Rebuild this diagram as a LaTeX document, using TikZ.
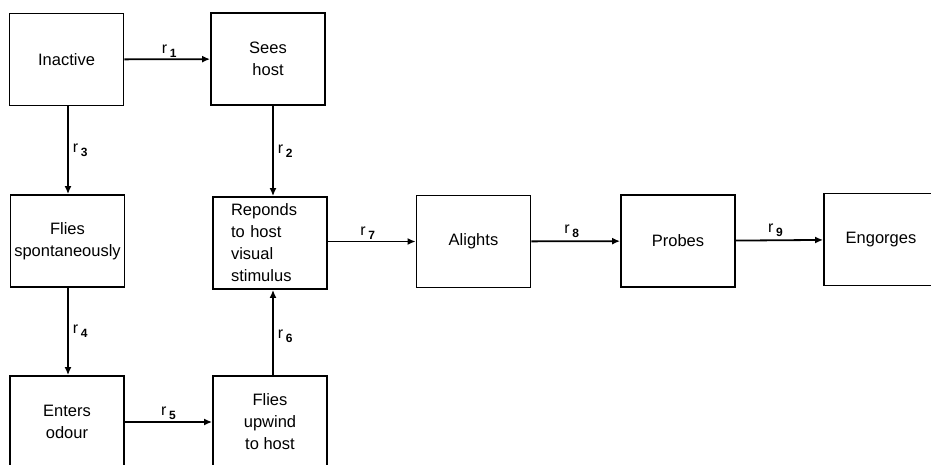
\documentclass[tikz,border=0pt]{standalone}
\usepackage{fontspec}
\setmainfont{Liberation Sans}
\usetikzlibrary{arrows.meta}
\tikzset{
  stage/.style={draw, line width=1.8pt, minimum width=114pt, minimum height=92pt,
    inner sep=0pt, align=center, font=\fontsize{16.5}{22}\selectfont},
  link/.style={line width=1.8pt, -{Latex[length=8pt,width=7pt]}},
  rlab/.style={inner sep=1pt, font=\fontsize{16}{16}\selectfont}
}
\newcommand{\rr}[1]{r\,\raisebox{-4pt}{\fontsize{12}{12}\selectfont\bfseries #1}}
\begin{document}
\begin{tikzpicture}[x=1pt,y=-1pt]
\useasboundingbox (0,0) rectangle (931,464);
\clip (0,0) rectangle (931,464);
\node[stage] (inactive) at (66.5,59.5) {Inactive};
\node[stage] (sees) at (268,59) {Sees\\host};
\node[stage] (flies) at (67.5,241) {Flies\\spontaneously};
\node[stage, text width=78pt, align=left] (rep) at (270,243) {Reponds\\to host\\visual\\stimulus};
\node[stage] (alights) at (473.5,241.5) {Alights};
\node[stage] (probes) at (678,241) {Probes};
\node[stage] (engorges) at (881,239.5) {Engorges};
\node[stage] (enters) at (67,422) {Enters\\odour};
\node[stage] (upwind) at (270,422) {Flies\\upwind\\to host};

\draw[link] (inactive) -- node[rlab, above, xshift=2pt] {\rr{1}} (sees);
\draw[link] ([xshift=5pt]sees.south) -- node[rlab, right=3pt] {\rr{2}} ([xshift=3pt]rep.north);
\draw[link] ([xshift=1.5pt]inactive.south) -- node[rlab, right=3pt] {\rr{3}} ([xshift=0.5pt]flies.north);
\draw[link] ([xshift=0.5pt]flies.south) -- node[rlab, right=3pt] {\rr{4}} ([xshift=1pt]enters.north);
\draw[link] (enters) -- node[rlab, above] {\rr{5}} (upwind);
\draw[link] ([xshift=3pt]upwind.north) -- node[rlab, right=3pt, yshift=-4pt] {\rr{6}} ([xshift=3pt]rep.south);
\draw[link] (rep.east |- alights.west) -- node[rlab, above, xshift=-4pt] {\rr{7}} (alights);
\draw[link] (alights) -- node[rlab, above, xshift=-4pt, yshift=2pt] {\rr{8}} (probes);
\draw[link] (probes) -- node[rlab, above, xshift=-4pt, yshift=2pt] {\rr{9}} (engorges);
\end{tikzpicture}
\end{document}
